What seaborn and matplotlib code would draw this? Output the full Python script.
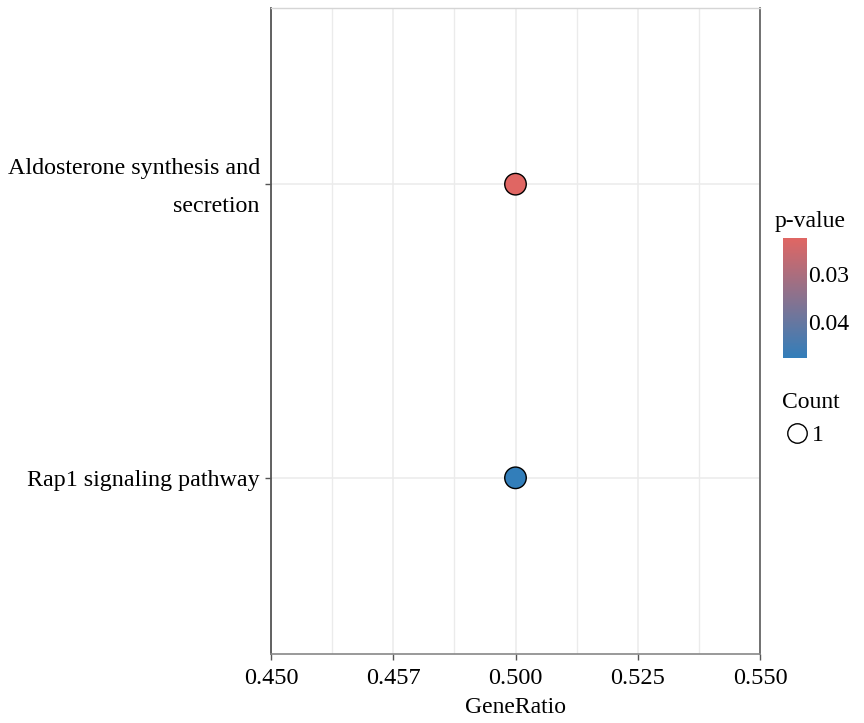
import numpy as np
import pandas as pd
import matplotlib
matplotlib.use("Agg")
import matplotlib.pyplot as plt
import seaborn as sns
from matplotlib.colors import LinearSegmentedColormap, Normalize
from matplotlib.lines import Line2D
import matplotlib.transforms as mtransforms
import matplotlib as mpl

# ---- data ----
pathways = ["Rap1 signaling pathway", "Aldosterone synthesis and\nsecretion"]
gene_ratio = [0.500, 0.500]
p_values = [0.0474, 0.0226]
counts = [1, 1]
x_ticks = [0.450, 0.475, 0.500, 0.525, 0.550]
x_tick_labels = ["0.450", "0.457", "0.500", "0.525", "0.550"]
cbar_ticks = [0.03, 0.04]
cbar_tick_labels = ["0.03", "0.04"]
count_levels = [1]

sns.set_style("white")
plt.rcParams["font.family"] = ["Liberation Serif", "DejaVu Serif"]
plt.rcParams["text.color"] = "black"
plt.rcParams["axes.labelcolor"] = "black"
plt.rcParams["xtick.labelcolor"] = "black"
plt.rcParams["ytick.labelcolor"] = "black"

df = pd.DataFrame({"Description": pathways, "GeneRatio": gene_ratio,
                   "pvalue": p_values, "Count": counts})

cmap = LinearSegmentedColormap.from_list("enr", ["#e06663", "#327eba"])
vmin, vmax = min(p_values), max(p_values)
norm = Normalize(vmin=vmin, vmax=vmax)

fig = plt.figure(figsize=(8.64, 7.23), dpi=100)
ax = fig.add_axes([271/864, 1-654/723, (760-271)/864, (654-8)/723])

sns.scatterplot(data=df, x="GeneRatio", y="Description", hue="pvalue",
                palette=cmap, hue_norm=norm, s=240, edgecolor="black",
                linewidth=1.0, legend=False, ax=ax, zorder=3)

ax.set_xlim(0.450, 0.550)
ax.set_ylim(-0.6, 1.6)
ax.set_xticks(x_ticks)
ax.set_xticklabels(x_tick_labels)
ax.set_xticks([0.4625, 0.4875, 0.5125, 0.5375], minor=True)
ax.grid(True, which="major", color="#EBEBEB", linewidth=1.1, zorder=0)
ax.grid(True, which="minor", axis="x", color="#EBEBEB", linewidth=1.0, zorder=0)
ax.set_axisbelow(True)

ax.set_xlabel("GeneRatio", fontsize=17, labelpad=6, color="black")
ax.set_ylabel("")
ax.tick_params(axis="x", which="major", labelsize=17.5, length=4, width=1,
               color="#555555", pad=6, bottom=True, labelcolor="black")
ax.tick_params(axis="x", which="minor", length=0)
ax.tick_params(axis="y", labelsize=17.3, length=4, width=1,
               color="#555555", pad=4, left=True, labelcolor="black")
shift = mtransforms.ScaledTranslation(0, -3/100, fig.dpi_scale_trans)
for lab in ax.get_yticklabels():
    if "\n" in lab.get_text():
        lab.set_linespacing(2.05)
        lab.set_va("center")
        lab.set_transform(lab.get_transform() + shift)

ax.spines["left"].set_color("#555555")
ax.spines["left"].set_linewidth(1.3)
ax.spines["right"].set_color("#666666")
ax.spines["right"].set_linewidth(1.3)
ax.spines["top"].set_color("#D5D5D5")
ax.spines["top"].set_linewidth(1.0)
ax.spines["bottom"].set_color("#888888")
ax.spines["bottom"].set_linewidth(1.2)

# ---- colorbar ----
cax = fig.add_axes([783/864, 1-358/723, 24/864, 120/723])
cb = mpl.colorbar.ColorbarBase(cax, cmap=cmap, norm=norm, orientation="vertical")
cb.outline.set_visible(False)
cax.invert_yaxis()
cb.set_ticks(cbar_ticks)
cb.set_ticklabels(cbar_tick_labels)
cax.tick_params(axis="y", direction="in", color="white", length=5, width=1,
                left=True, right=True, labelleft=False, labelright=True,
                labelsize=17, pad=1, labelcolor="black")
fig.text(775/864, 1-222/723, "p-value", fontsize=17, ha="left", va="center")

# ---- size legend ----
fig.text(782/864, 1-402/723, "Count", fontsize=17, ha="left", va="center")
handles = [Line2D([], [], marker="o", ls="", mfc="none", mec="black",
                  mew=1.0, ms=14) for _ in count_levels]
leg = fig.legend(handles, [str(c) for c in count_levels], loc="center left",
                 bbox_to_anchor=(771/864, 1-435/723), frameon=False,
                 fontsize=17, handletextpad=0.05, borderpad=0,
                 handlelength=1.2)

fig.savefig("out.png", dpi=100)
